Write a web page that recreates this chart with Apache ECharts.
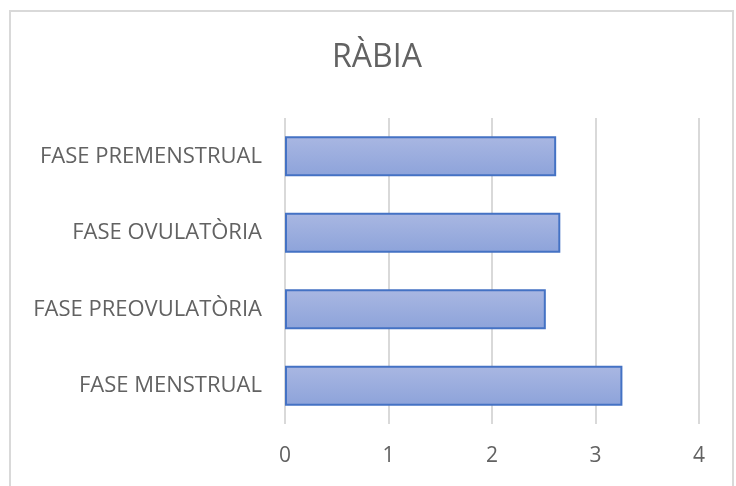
<!DOCTYPE html>
<html>
<head>
<meta charset="utf-8">
<script src="https://cdn.jsdelivr.net/npm/echarts@6/dist/echarts.min.js"></script>
<style>
  html, body { margin: 0; padding: 0; background: #ffffff; }
  #chart { width: 736px; height: 486px; }
</style>
</head>
<body>
<div id="chart"></div>
<script>
// Phases of the cycle, bottom to top as drawn on the category axis
const categories = ['FASE MENSTRUAL', 'FASE PREOVULATÒRIA', 'FASE OVULATÒRIA', 'FASE PREMENSTRUAL'];
// Mean "ràbia" score per phase
const values = [3.26, 2.52, 2.66, 2.62];
const titleText = 'RÀBIA';
const axisMin = 0;
const axisMax = 4;
const axisStep = 1;

const textFont = '"Open Sans", "Noto Sans", sans-serif';
const textColor = '#626262';

const chart = echarts.init(document.getElementById('chart'), null, { renderer: 'canvas' });

chart.setOption({
  animation: false,
  backgroundColor: '#ffffff',
  title: {
    text: titleText,
    left: 372,
    textAlign: 'center',
    top: 37,
    textStyle: { fontFamily: textFont, fontSize: 32, fontWeight: 'normal', color: textColor }
  },
  graphic: [{
    type: 'rect',
    shape: { x: 10, y: 11, width: 723, height: 500 },
    style: { fill: 'none', stroke: '#d9d9d9', lineWidth: 2 },
    silent: true
  }],
  grid: { left: 285, right: 37, top: 118, bottom: 62 },
  xAxis: {
    type: 'value',
    min: axisMin,
    max: axisMax,
    interval: axisStep,
    axisLine: { show: false },
    axisTick: { show: false },
    splitLine: { show: true, lineStyle: { color: '#d9d9d9', width: 2 } },
    axisLabel: {
      margin: 22,
      fontFamily: textFont,
      fontSize: 21,
      color: textColor
    }
  },
  yAxis: {
    type: 'category',
    data: categories,
    axisLine: { show: false },
    axisTick: { show: false },
    axisLabel: {
      margin: 23,
      fontFamily: textFont,
      fontSize: 22,
      color: textColor
    }
  },
  series: [{
    type: 'bar',
    data: values,
    barWidth: '52%',
    itemStyle: {
      color: new echarts.graphic.LinearGradient(0, 0, 0, 1, [
        { offset: 0, color: '#a9b7e2' },
        { offset: 1, color: '#8da3da' }
      ]),
      borderColor: '#4472c4',
      borderWidth: 2
    }
  }]
});
</script>
</body>
</html>
